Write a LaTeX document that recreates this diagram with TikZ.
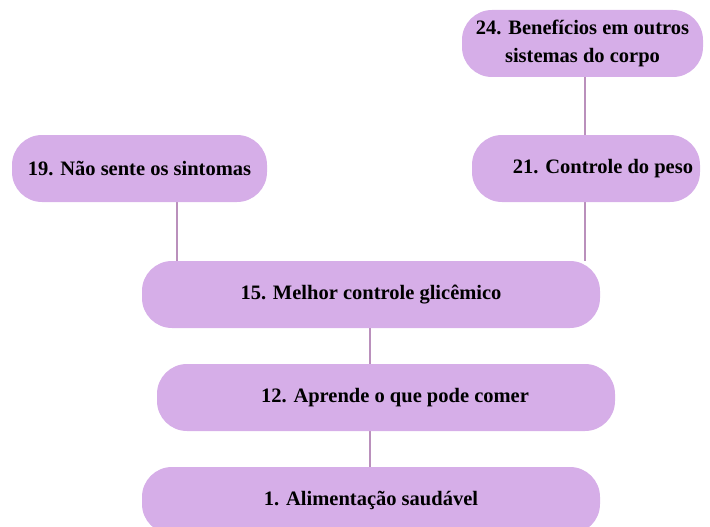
\documentclass[tikz,border=0pt]{standalone}
\usepackage{fontspec}
\setmainfont{Liberation Serif}
\usetikzlibrary{backgrounds}
\definecolor{boxfill}{RGB}{214,174,232}
\definecolor{linkline}{RGB}{186,144,188}
\tikzset{
	passo/.style = {fill = boxfill, rounded corners = 30pt, minimum height = 67pt, inner sep = 0pt, align = center, font = \fontsize{20.5}{28}\selectfont\bfseries},
	elo/.style = {draw = linkline, line width = 2.4pt}
}
\begin{document}
			\begin{tikzpicture}[x = 1pt, y = -1pt, line cap = round]
				\useasboundingbox (0,0) rectangle (710,527);
				\node[passo, minimum width = 241pt] (b24) at (582.5,43.5) {24. Benefícios em outros\\sistemas do corpo};
				\node[passo, minimum width = 255pt] (b19) at (139.5,168.5) {19. Não sente os sintomas};
				\node[passo, minimum width = 228pt] (b21) at (586,168.5) {\hspace*{34pt}21. Controle do peso};
				\node[passo, minimum width = 458pt] (b15) at (371,294.5) {15. Melhor controle glicêmico};
				\node[passo, minimum width = 458pt] (b12) at (386,397.5) {\hspace*{18pt}12. Aprende o que pode comer};
				\node[passo, minimum width = 458pt] (b1) at (371,500.5) {1. Alimentação saudável};
				\begin{scope}[on background layer]
					\draw[elo] ([xshift = -1pt]b21.north) -- ([xshift = -1pt]b21.north |- b24.south);
					\draw[elo] ([xshift = 37.5pt]b19.south) -- ([xshift = 37.5pt]b19.south |- b15.north);
					\draw[elo] ([xshift = -1pt]b21.south) -- ([xshift = -1pt]b21.south |- b15.north);
					\draw[elo] ([xshift = -1pt]b15.south) -- ([xshift = -1pt]b15.south |- b12.north);
					\draw[elo] ([xshift = -1pt]b1.north) -- ([xshift = -1pt]b1.north |- b12.south);
				\end{scope}
			\end{tikzpicture}
\end{document}
